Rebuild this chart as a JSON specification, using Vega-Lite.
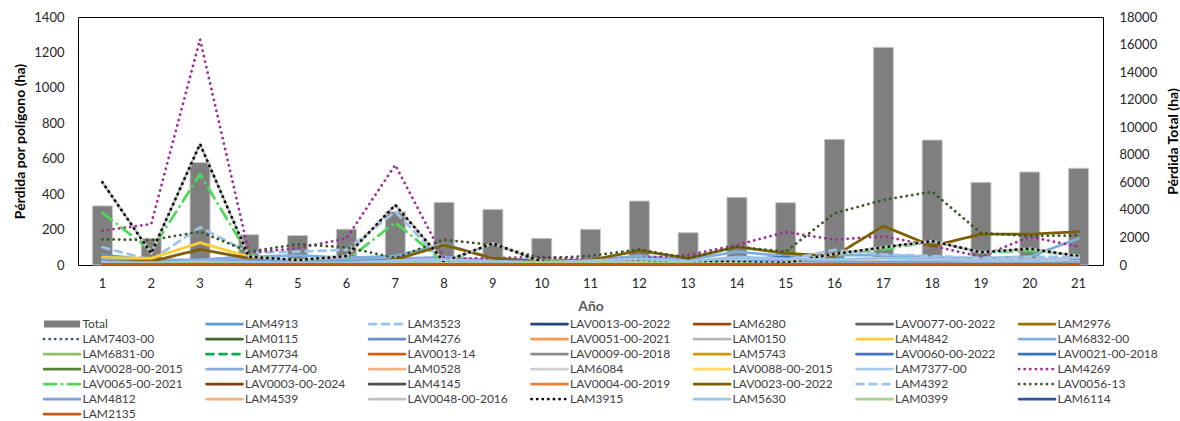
{
"$schema":"https://vega.github.io/schema/vega-lite/v6.json",
"width":1025,"height":248,
"autosize":{"type":"none"},
"padding":{"left":78,"top":17,"right":77,"bottom":156},
"background":"white",
"title":{"text":"Pérdida por polígono","anchor":"middle","frame":"group","font":"Lato","fontSize":18,"fontWeight":"normal","color":"#404040","baseline":"alphabetic","offset":9},
"config":{"view":{"stroke":"#000000","strokeWidth":1},"font":"Lato",
"axis":{"grid":false,"ticks":false,"tickSize":0,"domain":false,"labelFont":"Lato","labelFontSize":13,"labelColor":"#262626","titleFont":"Lato","titleFontSize":14,"titleFontWeight":"bold","titleColor":"#000000"}},
"datasets":{
"totals":[{"year":1,"total":4290},{"year":2,"total":1935},{"year":3,"total":7440},{"year":4,"total":2200},{"year":5,"total":2140},{"year":6,"total":2600},{"year":7,"total":3860},{"year":8,"total":4550},{"year":9,"total":4040},{"year":10,"total":1935},{"year":11,"total":2590},{"year":12,"total":4645},{"year":13,"total":2345},{"year":14,"total":4910},{"year":15,"total":4520},{"year":16,"total":9120},{"year":17,"total":15800},{"year":18,"total":9070},{"year":19,"total":6000},{"year":20,"total":6750},{"year":21,"total":7020}],
"lines":[
{"year":1,"serie":"LAM4913","ha":56},{"year":2,"serie":"LAM4913","ha":30},{"year":3,"serie":"LAM4913","ha":25},{"year":4,"serie":"LAM4913","ha":51},{"year":5,"serie":"LAM4913","ha":20},{"year":6,"serie":"LAM4913","ha":25},{"year":7,"serie":"LAM4913","ha":30},{"year":8,"serie":"LAM4913","ha":40},{"year":9,"serie":"LAM4913","ha":20},{"year":10,"serie":"LAM4913","ha":15},{"year":11,"serie":"LAM4913","ha":15},{"year":12,"serie":"LAM4913","ha":20},{"year":13,"serie":"LAM4913","ha":10},{"year":14,"serie":"LAM4913","ha":20},{"year":15,"serie":"LAM4913","ha":25},{"year":16,"serie":"LAM4913","ha":20},{"year":17,"serie":"LAM4913","ha":15},{"year":18,"serie":"LAM4913","ha":15},{"year":19,"serie":"LAM4913","ha":10},{"year":20,"serie":"LAM4913","ha":10},{"year":21,"serie":"LAM4913","ha":15},
{"year":1,"serie":"LAM3523","ha":100},{"year":2,"serie":"LAM3523","ha":28},{"year":3,"serie":"LAM3523","ha":213},{"year":4,"serie":"LAM3523","ha":70},{"year":5,"serie":"LAM3523","ha":75},{"year":6,"serie":"LAM3523","ha":85},{"year":7,"serie":"LAM3523","ha":301},{"year":8,"serie":"LAM3523","ha":10},{"year":9,"serie":"LAM3523","ha":15},{"year":10,"serie":"LAM3523","ha":10},{"year":11,"serie":"LAM3523","ha":10},{"year":12,"serie":"LAM3523","ha":15},{"year":13,"serie":"LAM3523","ha":10},{"year":14,"serie":"LAM3523","ha":20},{"year":15,"serie":"LAM3523","ha":15},{"year":16,"serie":"LAM3523","ha":20},{"year":17,"serie":"LAM3523","ha":15},{"year":18,"serie":"LAM3523","ha":15},{"year":19,"serie":"LAM3523","ha":10},{"year":20,"serie":"LAM3523","ha":10},{"year":21,"serie":"LAM3523","ha":10},
{"year":1,"serie":"LAV0013-00-2022","ha":2},{"year":2,"serie":"LAV0013-00-2022","ha":2},{"year":3,"serie":"LAV0013-00-2022","ha":3},{"year":4,"serie":"LAV0013-00-2022","ha":2},{"year":5,"serie":"LAV0013-00-2022","ha":2},{"year":6,"serie":"LAV0013-00-2022","ha":2},{"year":7,"serie":"LAV0013-00-2022","ha":2},{"year":8,"serie":"LAV0013-00-2022","ha":2},{"year":9,"serie":"LAV0013-00-2022","ha":2},{"year":10,"serie":"LAV0013-00-2022","ha":2},{"year":11,"serie":"LAV0013-00-2022","ha":2},{"year":12,"serie":"LAV0013-00-2022","ha":2},{"year":13,"serie":"LAV0013-00-2022","ha":2},{"year":14,"serie":"LAV0013-00-2022","ha":2},{"year":15,"serie":"LAV0013-00-2022","ha":2},{"year":16,"serie":"LAV0013-00-2022","ha":3},{"year":17,"serie":"LAV0013-00-2022","ha":3},{"year":18,"serie":"LAV0013-00-2022","ha":3},{"year":19,"serie":"LAV0013-00-2022","ha":2},{"year":20,"serie":"LAV0013-00-2022","ha":2},{"year":21,"serie":"LAV0013-00-2022","ha":2},
{"year":1,"serie":"LAM6280","ha":3},{"year":2,"serie":"LAM6280","ha":3},{"year":3,"serie":"LAM6280","ha":4},{"year":4,"serie":"LAM6280","ha":3},{"year":5,"serie":"LAM6280","ha":3},{"year":6,"serie":"LAM6280","ha":3},{"year":7,"serie":"LAM6280","ha":3},{"year":8,"serie":"LAM6280","ha":3},{"year":9,"serie":"LAM6280","ha":3},{"year":10,"serie":"LAM6280","ha":3},{"year":11,"serie":"LAM6280","ha":3},{"year":12,"serie":"LAM6280","ha":3},{"year":13,"serie":"LAM6280","ha":3},{"year":14,"serie":"LAM6280","ha":3},{"year":15,"serie":"LAM6280","ha":3},{"year":16,"serie":"LAM6280","ha":3},{"year":17,"serie":"LAM6280","ha":3},{"year":18,"serie":"LAM6280","ha":3},{"year":19,"serie":"LAM6280","ha":3},{"year":20,"serie":"LAM6280","ha":3},{"year":21,"serie":"LAM6280","ha":3},
{"year":1,"serie":"LAV0077-00-2022","ha":4},{"year":2,"serie":"LAV0077-00-2022","ha":3},{"year":3,"serie":"LAV0077-00-2022","ha":5},{"year":4,"serie":"LAV0077-00-2022","ha":3},{"year":5,"serie":"LAV0077-00-2022","ha":3},{"year":6,"serie":"LAV0077-00-2022","ha":3},{"year":7,"serie":"LAV0077-00-2022","ha":4},{"year":8,"serie":"LAV0077-00-2022","ha":4},{"year":9,"serie":"LAV0077-00-2022","ha":3},{"year":10,"serie":"LAV0077-00-2022","ha":3},{"year":11,"serie":"LAV0077-00-2022","ha":3},{"year":12,"serie":"LAV0077-00-2022","ha":4},{"year":13,"serie":"LAV0077-00-2022","ha":3},{"year":14,"serie":"LAV0077-00-2022","ha":4},{"year":15,"serie":"LAV0077-00-2022","ha":4},{"year":16,"serie":"LAV0077-00-2022","ha":5},{"year":17,"serie":"LAV0077-00-2022","ha":5},{"year":18,"serie":"LAV0077-00-2022","ha":4},{"year":19,"serie":"LAV0077-00-2022","ha":3},{"year":20,"serie":"LAV0077-00-2022","ha":3},{"year":21,"serie":"LAV0077-00-2022","ha":3},
{"year":1,"serie":"LAM2976","ha":8},{"year":2,"serie":"LAM2976","ha":6},{"year":3,"serie":"LAM2976","ha":12},{"year":4,"serie":"LAM2976","ha":7},{"year":5,"serie":"LAM2976","ha":5},{"year":6,"serie":"LAM2976","ha":5},{"year":7,"serie":"LAM2976","ha":8},{"year":8,"serie":"LAM2976","ha":12},{"year":9,"serie":"LAM2976","ha":6},{"year":10,"serie":"LAM2976","ha":4},{"year":11,"serie":"LAM2976","ha":5},{"year":12,"serie":"LAM2976","ha":10},{"year":13,"serie":"LAM2976","ha":5},{"year":14,"serie":"LAM2976","ha":10},{"year":15,"serie":"LAM2976","ha":8},{"year":16,"serie":"LAM2976","ha":8},{"year":17,"serie":"LAM2976","ha":12},{"year":18,"serie":"LAM2976","ha":10},{"year":19,"serie":"LAM2976","ha":8},{"year":20,"serie":"LAM2976","ha":8},{"year":21,"serie":"LAM2976","ha":9},
{"year":1,"serie":"LAM7403-00","ha":10},{"year":2,"serie":"LAM7403-00","ha":8},{"year":3,"serie":"LAM7403-00","ha":15},{"year":4,"serie":"LAM7403-00","ha":8},{"year":5,"serie":"LAM7403-00","ha":6},{"year":6,"serie":"LAM7403-00","ha":6},{"year":7,"serie":"LAM7403-00","ha":10},{"year":8,"serie":"LAM7403-00","ha":12},{"year":9,"serie":"LAM7403-00","ha":8},{"year":10,"serie":"LAM7403-00","ha":5},{"year":11,"serie":"LAM7403-00","ha":5},{"year":12,"serie":"LAM7403-00","ha":8},{"year":13,"serie":"LAM7403-00","ha":5},{"year":14,"serie":"LAM7403-00","ha":8},{"year":15,"serie":"LAM7403-00","ha":8},{"year":16,"serie":"LAM7403-00","ha":10},{"year":17,"serie":"LAM7403-00","ha":10},{"year":18,"serie":"LAM7403-00","ha":8},{"year":19,"serie":"LAM7403-00","ha":6},{"year":20,"serie":"LAM7403-00","ha":6},{"year":21,"serie":"LAM7403-00","ha":6},
{"year":1,"serie":"LAM0115","ha":5},{"year":2,"serie":"LAM0115","ha":4},{"year":3,"serie":"LAM0115","ha":8},{"year":4,"serie":"LAM0115","ha":4},{"year":5,"serie":"LAM0115","ha":3},{"year":6,"serie":"LAM0115","ha":3},{"year":7,"serie":"LAM0115","ha":5},{"year":8,"serie":"LAM0115","ha":6},{"year":9,"serie":"LAM0115","ha":4},{"year":10,"serie":"LAM0115","ha":3},{"year":11,"serie":"LAM0115","ha":3},{"year":12,"serie":"LAM0115","ha":5},{"year":13,"serie":"LAM0115","ha":3},{"year":14,"serie":"LAM0115","ha":5},{"year":15,"serie":"LAM0115","ha":5},{"year":16,"serie":"LAM0115","ha":5},{"year":17,"serie":"LAM0115","ha":6},{"year":18,"serie":"LAM0115","ha":5},{"year":19,"serie":"LAM0115","ha":4},{"year":20,"serie":"LAM0115","ha":4},{"year":21,"serie":"LAM0115","ha":4},
{"year":1,"serie":"LAM4276","ha":20},{"year":2,"serie":"LAM4276","ha":15},{"year":3,"serie":"LAM4276","ha":30},{"year":4,"serie":"LAM4276","ha":20},{"year":5,"serie":"LAM4276","ha":15},{"year":6,"serie":"LAM4276","ha":15},{"year":7,"serie":"LAM4276","ha":20},{"year":8,"serie":"LAM4276","ha":30},{"year":9,"serie":"LAM4276","ha":20},{"year":10,"serie":"LAM4276","ha":10},{"year":11,"serie":"LAM4276","ha":10},{"year":12,"serie":"LAM4276","ha":15},{"year":13,"serie":"LAM4276","ha":10},{"year":14,"serie":"LAM4276","ha":15},{"year":15,"serie":"LAM4276","ha":10},{"year":16,"serie":"LAM4276","ha":10},{"year":17,"serie":"LAM4276","ha":10},{"year":18,"serie":"LAM4276","ha":10},{"year":19,"serie":"LAM4276","ha":10},{"year":20,"serie":"LAM4276","ha":10},{"year":21,"serie":"LAM4276","ha":10},
{"year":1,"serie":"LAV0051-00-2021","ha":4},{"year":2,"serie":"LAV0051-00-2021","ha":3},{"year":3,"serie":"LAV0051-00-2021","ha":5},{"year":4,"serie":"LAV0051-00-2021","ha":3},{"year":5,"serie":"LAV0051-00-2021","ha":3},{"year":6,"serie":"LAV0051-00-2021","ha":3},{"year":7,"serie":"LAV0051-00-2021","ha":4},{"year":8,"serie":"LAV0051-00-2021","ha":4},{"year":9,"serie":"LAV0051-00-2021","ha":3},{"year":10,"serie":"LAV0051-00-2021","ha":3},{"year":11,"serie":"LAV0051-00-2021","ha":3},{"year":12,"serie":"LAV0051-00-2021","ha":4},{"year":13,"serie":"LAV0051-00-2021","ha":3},{"year":14,"serie":"LAV0051-00-2021","ha":6},{"year":15,"serie":"LAV0051-00-2021","ha":8},{"year":16,"serie":"LAV0051-00-2021","ha":5},{"year":17,"serie":"LAV0051-00-2021","ha":6},{"year":18,"serie":"LAV0051-00-2021","ha":5},{"year":19,"serie":"LAV0051-00-2021","ha":4},{"year":20,"serie":"LAV0051-00-2021","ha":4},{"year":21,"serie":"LAV0051-00-2021","ha":4},
{"year":1,"serie":"LAM0150","ha":6},{"year":2,"serie":"LAM0150","ha":5},{"year":3,"serie":"LAM0150","ha":8},{"year":4,"serie":"LAM0150","ha":5},{"year":5,"serie":"LAM0150","ha":4},{"year":6,"serie":"LAM0150","ha":4},{"year":7,"serie":"LAM0150","ha":6},{"year":8,"serie":"LAM0150","ha":7},{"year":9,"serie":"LAM0150","ha":5},{"year":10,"serie":"LAM0150","ha":4},{"year":11,"serie":"LAM0150","ha":4},{"year":12,"serie":"LAM0150","ha":6},{"year":13,"serie":"LAM0150","ha":4},{"year":14,"serie":"LAM0150","ha":6},{"year":15,"serie":"LAM0150","ha":6},{"year":16,"serie":"LAM0150","ha":6},{"year":17,"serie":"LAM0150","ha":7},{"year":18,"serie":"LAM0150","ha":6},{"year":19,"serie":"LAM0150","ha":5},{"year":20,"serie":"LAM0150","ha":5},{"year":21,"serie":"LAM0150","ha":5},
{"year":1,"serie":"LAM4842","ha":43},{"year":2,"serie":"LAM4842","ha":38},{"year":3,"serie":"LAM4842","ha":126},{"year":4,"serie":"LAM4842","ha":47},{"year":5,"serie":"LAM4842","ha":20},{"year":6,"serie":"LAM4842","ha":15},{"year":7,"serie":"LAM4842","ha":15},{"year":8,"serie":"LAM4842","ha":10},{"year":9,"serie":"LAM4842","ha":8},{"year":10,"serie":"LAM4842","ha":5},{"year":11,"serie":"LAM4842","ha":5},{"year":12,"serie":"LAM4842","ha":10},{"year":13,"serie":"LAM4842","ha":5},{"year":14,"serie":"LAM4842","ha":25},{"year":15,"serie":"LAM4842","ha":20},{"year":16,"serie":"LAM4842","ha":12},{"year":17,"serie":"LAM4842","ha":38},{"year":18,"serie":"LAM4842","ha":30},{"year":19,"serie":"LAM4842","ha":12},{"year":20,"serie":"LAM4842","ha":10},{"year":21,"serie":"LAM4842","ha":10},
{"year":1,"serie":"LAM6832-00","ha":30},{"year":2,"serie":"LAM6832-00","ha":25},{"year":3,"serie":"LAM6832-00","ha":30},{"year":4,"serie":"LAM6832-00","ha":45},{"year":5,"serie":"LAM6832-00","ha":55},{"year":6,"serie":"LAM6832-00","ha":40},{"year":7,"serie":"LAM6832-00","ha":51},{"year":8,"serie":"LAM6832-00","ha":117},{"year":9,"serie":"LAM6832-00","ha":38},{"year":10,"serie":"LAM6832-00","ha":25},{"year":11,"serie":"LAM6832-00","ha":28},{"year":12,"serie":"LAM6832-00","ha":51},{"year":13,"serie":"LAM6832-00","ha":30},{"year":14,"serie":"LAM6832-00","ha":75},{"year":15,"serie":"LAM6832-00","ha":50},{"year":16,"serie":"LAM6832-00","ha":56},{"year":17,"serie":"LAM6832-00","ha":56},{"year":18,"serie":"LAM6832-00","ha":43},{"year":19,"serie":"LAM6832-00","ha":38},{"year":20,"serie":"LAM6832-00","ha":47},{"year":21,"serie":"LAM6832-00","ha":150},
{"year":1,"serie":"LAM6831-00","ha":10},{"year":2,"serie":"LAM6831-00","ha":8},{"year":3,"serie":"LAM6831-00","ha":15},{"year":4,"serie":"LAM6831-00","ha":10},{"year":5,"serie":"LAM6831-00","ha":8},{"year":6,"serie":"LAM6831-00","ha":8},{"year":7,"serie":"LAM6831-00","ha":10},{"year":8,"serie":"LAM6831-00","ha":10},{"year":9,"serie":"LAM6831-00","ha":8},{"year":10,"serie":"LAM6831-00","ha":15},{"year":11,"serie":"LAM6831-00","ha":20},{"year":12,"serie":"LAM6831-00","ha":20},{"year":13,"serie":"LAM6831-00","ha":10},{"year":14,"serie":"LAM6831-00","ha":10},{"year":15,"serie":"LAM6831-00","ha":10},{"year":16,"serie":"LAM6831-00","ha":8},{"year":17,"serie":"LAM6831-00","ha":8},{"year":18,"serie":"LAM6831-00","ha":8},{"year":19,"serie":"LAM6831-00","ha":5},{"year":20,"serie":"LAM6831-00","ha":5},{"year":21,"serie":"LAM6831-00","ha":5},
{"year":1,"serie":"LAM0734","ha":10},{"year":2,"serie":"LAM0734","ha":6},{"year":3,"serie":"LAM0734","ha":15},{"year":4,"serie":"LAM0734","ha":6},{"year":5,"serie":"LAM0734","ha":5},{"year":6,"serie":"LAM0734","ha":5},{"year":7,"serie":"LAM0734","ha":10},{"year":8,"serie":"LAM0734","ha":15},{"year":9,"serie":"LAM0734","ha":6},{"year":10,"serie":"LAM0734","ha":5},{"year":11,"serie":"LAM0734","ha":5},{"year":12,"serie":"LAM0734","ha":20},{"year":13,"serie":"LAM0734","ha":5},{"year":14,"serie":"LAM0734","ha":10},{"year":15,"serie":"LAM0734","ha":10},{"year":16,"serie":"LAM0734","ha":10},{"year":17,"serie":"LAM0734","ha":10},{"year":18,"serie":"LAM0734","ha":10},{"year":19,"serie":"LAM0734","ha":6},{"year":20,"serie":"LAM0734","ha":6},{"year":21,"serie":"LAM0734","ha":6},
{"year":1,"serie":"LAV0013-14","ha":3},{"year":2,"serie":"LAV0013-14","ha":3},{"year":3,"serie":"LAV0013-14","ha":4},{"year":4,"serie":"LAV0013-14","ha":3},{"year":5,"serie":"LAV0013-14","ha":2},{"year":6,"serie":"LAV0013-14","ha":2},{"year":7,"serie":"LAV0013-14","ha":3},{"year":8,"serie":"LAV0013-14","ha":3},{"year":9,"serie":"LAV0013-14","ha":3},{"year":10,"serie":"LAV0013-14","ha":2},{"year":11,"serie":"LAV0013-14","ha":2},{"year":12,"serie":"LAV0013-14","ha":3},{"year":13,"serie":"LAV0013-14","ha":2},{"year":14,"serie":"LAV0013-14","ha":3},{"year":15,"serie":"LAV0013-14","ha":3},{"year":16,"serie":"LAV0013-14","ha":3},{"year":17,"serie":"LAV0013-14","ha":3},{"year":18,"serie":"LAV0013-14","ha":3},{"year":19,"serie":"LAV0013-14","ha":2},{"year":20,"serie":"LAV0013-14","ha":2},{"year":21,"serie":"LAV0013-14","ha":2},
{"year":1,"serie":"LAV0009-00-2018","ha":5},{"year":2,"serie":"LAV0009-00-2018","ha":4},{"year":3,"serie":"LAV0009-00-2018","ha":6},{"year":4,"serie":"LAV0009-00-2018","ha":4},{"year":5,"serie":"LAV0009-00-2018","ha":4},{"year":6,"serie":"LAV0009-00-2018","ha":4},{"year":7,"serie":"LAV0009-00-2018","ha":5},{"year":8,"serie":"LAV0009-00-2018","ha":5},{"year":9,"serie":"LAV0009-00-2018","ha":4},{"year":10,"serie":"LAV0009-00-2018","ha":3},{"year":11,"serie":"LAV0009-00-2018","ha":3},{"year":12,"serie":"LAV0009-00-2018","ha":5},{"year":13,"serie":"LAV0009-00-2018","ha":3},{"year":14,"serie":"LAV0009-00-2018","ha":5},{"year":15,"serie":"LAV0009-00-2018","ha":5},{"year":16,"serie":"LAV0009-00-2018","ha":5},{"year":17,"serie":"LAV0009-00-2018","ha":5},{"year":18,"serie":"LAV0009-00-2018","ha":5},{"year":19,"serie":"LAV0009-00-2018","ha":4},{"year":20,"serie":"LAV0009-00-2018","ha":4},{"year":21,"serie":"LAV0009-00-2018","ha":4},
{"year":1,"serie":"LAM5743","ha":6},{"year":2,"serie":"LAM5743","ha":5},{"year":3,"serie":"LAM5743","ha":10},{"year":4,"serie":"LAM5743","ha":6},{"year":5,"serie":"LAM5743","ha":4},{"year":6,"serie":"LAM5743","ha":4},{"year":7,"serie":"LAM5743","ha":5},{"year":8,"serie":"LAM5743","ha":6},{"year":9,"serie":"LAM5743","ha":4},{"year":10,"serie":"LAM5743","ha":3},{"year":11,"serie":"LAM5743","ha":3},{"year":12,"serie":"LAM5743","ha":5},{"year":13,"serie":"LAM5743","ha":4},{"year":14,"serie":"LAM5743","ha":8},{"year":15,"serie":"LAM5743","ha":6},{"year":16,"serie":"LAM5743","ha":6},{"year":17,"serie":"LAM5743","ha":10},{"year":18,"serie":"LAM5743","ha":8},{"year":19,"serie":"LAM5743","ha":5},{"year":20,"serie":"LAM5743","ha":5},{"year":21,"serie":"LAM5743","ha":5},
{"year":1,"serie":"LAV0060-00-2022","ha":5},{"year":2,"serie":"LAV0060-00-2022","ha":5},{"year":3,"serie":"LAV0060-00-2022","ha":6},{"year":4,"serie":"LAV0060-00-2022","ha":5},{"year":5,"serie":"LAV0060-00-2022","ha":5},{"year":6,"serie":"LAV0060-00-2022","ha":5},{"year":7,"serie":"LAV0060-00-2022","ha":5},{"year":8,"serie":"LAV0060-00-2022","ha":6},{"year":9,"serie":"LAV0060-00-2022","ha":5},{"year":10,"serie":"LAV0060-00-2022","ha":4},{"year":11,"serie":"LAV0060-00-2022","ha":4},{"year":12,"serie":"LAV0060-00-2022","ha":5},{"year":13,"serie":"LAV0060-00-2022","ha":4},{"year":14,"serie":"LAV0060-00-2022","ha":6},{"year":15,"serie":"LAV0060-00-2022","ha":6},{"year":16,"serie":"LAV0060-00-2022","ha":5},{"year":17,"serie":"LAV0060-00-2022","ha":5},{"year":18,"serie":"LAV0060-00-2022","ha":5},{"year":19,"serie":"LAV0060-00-2022","ha":5},{"year":20,"serie":"LAV0060-00-2022","ha":5},{"year":21,"serie":"LAV0060-00-2022","ha":10},
{"year":1,"serie":"LAV0021-00-2018","ha":5},{"year":2,"serie":"LAV0021-00-2018","ha":5},{"year":3,"serie":"LAV0021-00-2018","ha":5},{"year":4,"serie":"LAV0021-00-2018","ha":5},{"year":5,"serie":"LAV0021-00-2018","ha":5},{"year":6,"serie":"LAV0021-00-2018","ha":5},{"year":7,"serie":"LAV0021-00-2018","ha":5},{"year":8,"serie":"LAV0021-00-2018","ha":5},{"year":9,"serie":"LAV0021-00-2018","ha":5},{"year":10,"serie":"LAV0021-00-2018","ha":5},{"year":11,"serie":"LAV0021-00-2018","ha":5},{"year":12,"serie":"LAV0021-00-2018","ha":6},{"year":13,"serie":"LAV0021-00-2018","ha":5},{"year":14,"serie":"LAV0021-00-2018","ha":30},{"year":15,"serie":"LAV0021-00-2018","ha":45},{"year":16,"serie":"LAV0021-00-2018","ha":5},{"year":17,"serie":"LAV0021-00-2018","ha":5},{"year":18,"serie":"LAV0021-00-2018","ha":5},{"year":19,"serie":"LAV0021-00-2018","ha":5},{"year":20,"serie":"LAV0021-00-2018","ha":5},{"year":21,"serie":"LAV0021-00-2018","ha":5},
{"year":1,"serie":"LAV0028-00-2015","ha":6},{"year":2,"serie":"LAV0028-00-2015","ha":5},{"year":3,"serie":"LAV0028-00-2015","ha":8},{"year":4,"serie":"LAV0028-00-2015","ha":5},{"year":5,"serie":"LAV0028-00-2015","ha":4},{"year":6,"serie":"LAV0028-00-2015","ha":4},{"year":7,"serie":"LAV0028-00-2015","ha":6},{"year":8,"serie":"LAV0028-00-2015","ha":7},{"year":9,"serie":"LAV0028-00-2015","ha":5},{"year":10,"serie":"LAV0028-00-2015","ha":4},{"year":11,"serie":"LAV0028-00-2015","ha":5},{"year":12,"serie":"LAV0028-00-2015","ha":6},{"year":13,"serie":"LAV0028-00-2015","ha":4},{"year":14,"serie":"LAV0028-00-2015","ha":6},{"year":15,"serie":"LAV0028-00-2015","ha":5},{"year":16,"serie":"LAV0028-00-2015","ha":5},{"year":17,"serie":"LAV0028-00-2015","ha":5},{"year":18,"serie":"LAV0028-00-2015","ha":5},{"year":19,"serie":"LAV0028-00-2015","ha":4},{"year":20,"serie":"LAV0028-00-2015","ha":4},{"year":21,"serie":"LAV0028-00-2015","ha":4},
{"year":1,"serie":"LAM7774-00","ha":25},{"year":2,"serie":"LAM7774-00","ha":20},{"year":3,"serie":"LAM7774-00","ha":20},{"year":4,"serie":"LAM7774-00","ha":30},{"year":5,"serie":"LAM7774-00","ha":25},{"year":6,"serie":"LAM7774-00","ha":30},{"year":7,"serie":"LAM7774-00","ha":35},{"year":8,"serie":"LAM7774-00","ha":45},{"year":9,"serie":"LAM7774-00","ha":25},{"year":10,"serie":"LAM7774-00","ha":20},{"year":11,"serie":"LAM7774-00","ha":20},{"year":12,"serie":"LAM7774-00","ha":25},{"year":13,"serie":"LAM7774-00","ha":15},{"year":14,"serie":"LAM7774-00","ha":30},{"year":15,"serie":"LAM7774-00","ha":25},{"year":16,"serie":"LAM7774-00","ha":20},{"year":17,"serie":"LAM7774-00","ha":20},{"year":18,"serie":"LAM7774-00","ha":20},{"year":19,"serie":"LAM7774-00","ha":15},{"year":20,"serie":"LAM7774-00","ha":15},{"year":21,"serie":"LAM7774-00","ha":20},
{"year":1,"serie":"LAM0528","ha":5},{"year":2,"serie":"LAM0528","ha":4},{"year":3,"serie":"LAM0528","ha":6},{"year":4,"serie":"LAM0528","ha":4},{"year":5,"serie":"LAM0528","ha":4},{"year":6,"serie":"LAM0528","ha":4},{"year":7,"serie":"LAM0528","ha":5},{"year":8,"serie":"LAM0528","ha":5},{"year":9,"serie":"LAM0528","ha":4},{"year":10,"serie":"LAM0528","ha":4},{"year":11,"serie":"LAM0528","ha":6},{"year":12,"serie":"LAM0528","ha":8},{"year":13,"serie":"LAM0528","ha":12},{"year":14,"serie":"LAM0528","ha":14},{"year":15,"serie":"LAM0528","ha":12},{"year":16,"serie":"LAM0528","ha":6},{"year":17,"serie":"LAM0528","ha":6},{"year":18,"serie":"LAM0528","ha":6},{"year":19,"serie":"LAM0528","ha":4},{"year":20,"serie":"LAM0528","ha":4},{"year":21,"serie":"LAM0528","ha":4},
{"year":1,"serie":"LAM6084","ha":4},{"year":2,"serie":"LAM6084","ha":4},{"year":3,"serie":"LAM6084","ha":5},{"year":4,"serie":"LAM6084","ha":4},{"year":5,"serie":"LAM6084","ha":3},{"year":6,"serie":"LAM6084","ha":3},{"year":7,"serie":"LAM6084","ha":4},{"year":8,"serie":"LAM6084","ha":4},{"year":9,"serie":"LAM6084","ha":3},{"year":10,"serie":"LAM6084","ha":3},{"year":11,"serie":"LAM6084","ha":3},{"year":12,"serie":"LAM6084","ha":4},{"year":13,"serie":"LAM6084","ha":3},{"year":14,"serie":"LAM6084","ha":4},{"year":15,"serie":"LAM6084","ha":4},{"year":16,"serie":"LAM6084","ha":4},{"year":17,"serie":"LAM6084","ha":4},{"year":18,"serie":"LAM6084","ha":4},{"year":19,"serie":"LAM6084","ha":3},{"year":20,"serie":"LAM6084","ha":3},{"year":21,"serie":"LAM6084","ha":3},
{"year":1,"serie":"LAV0088-00-2015","ha":8},{"year":2,"serie":"LAV0088-00-2015","ha":6},{"year":3,"serie":"LAV0088-00-2015","ha":12},{"year":4,"serie":"LAV0088-00-2015","ha":6},{"year":5,"serie":"LAV0088-00-2015","ha":5},{"year":6,"serie":"LAV0088-00-2015","ha":4},{"year":7,"serie":"LAV0088-00-2015","ha":6},{"year":8,"serie":"LAV0088-00-2015","ha":6},{"year":9,"serie":"LAV0088-00-2015","ha":4},{"year":10,"serie":"LAV0088-00-2015","ha":3},{"year":11,"serie":"LAV0088-00-2015","ha":3},{"year":12,"serie":"LAV0088-00-2015","ha":6},{"year":13,"serie":"LAV0088-00-2015","ha":4},{"year":14,"serie":"LAV0088-00-2015","ha":12},{"year":15,"serie":"LAV0088-00-2015","ha":10},{"year":16,"serie":"LAV0088-00-2015","ha":10},{"year":17,"serie":"LAV0088-00-2015","ha":30},{"year":18,"serie":"LAV0088-00-2015","ha":20},{"year":19,"serie":"LAV0088-00-2015","ha":8},{"year":20,"serie":"LAV0088-00-2015","ha":8},{"year":21,"serie":"LAV0088-00-2015","ha":8},
{"year":1,"serie":"LAM7377-00","ha":10},{"year":2,"serie":"LAM7377-00","ha":10},{"year":3,"serie":"LAM7377-00","ha":15},{"year":4,"serie":"LAM7377-00","ha":10},{"year":5,"serie":"LAM7377-00","ha":10},{"year":6,"serie":"LAM7377-00","ha":10},{"year":7,"serie":"LAM7377-00","ha":15},{"year":8,"serie":"LAM7377-00","ha":20},{"year":9,"serie":"LAM7377-00","ha":15},{"year":10,"serie":"LAM7377-00","ha":10},{"year":11,"serie":"LAM7377-00","ha":15},{"year":12,"serie":"LAM7377-00","ha":20},{"year":13,"serie":"LAM7377-00","ha":10},{"year":14,"serie":"LAM7377-00","ha":30},{"year":15,"serie":"LAM7377-00","ha":20},{"year":16,"serie":"LAM7377-00","ha":15},{"year":17,"serie":"LAM7377-00","ha":20},{"year":18,"serie":"LAM7377-00","ha":20},{"year":19,"serie":"LAM7377-00","ha":15},{"year":20,"serie":"LAM7377-00","ha":15},{"year":21,"serie":"LAM7377-00","ha":20},
{"year":1,"serie":"LAM4269","ha":194},{"year":2,"serie":"LAM4269","ha":231},{"year":3,"serie":"LAM4269","ha":1274},{"year":4,"serie":"LAM4269","ha":70},{"year":5,"serie":"LAM4269","ha":95},{"year":6,"serie":"LAM4269","ha":150},{"year":7,"serie":"LAM4269","ha":565},{"year":8,"serie":"LAM4269","ha":35},{"year":9,"serie":"LAM4269","ha":38},{"year":10,"serie":"LAM4269","ha":47},{"year":11,"serie":"LAM4269","ha":28},{"year":12,"serie":"LAM4269","ha":38},{"year":13,"serie":"LAM4269","ha":56},{"year":14,"serie":"LAM4269","ha":113},{"year":15,"serie":"LAM4269","ha":186},{"year":16,"serie":"LAM4269","ha":143},{"year":17,"serie":"LAM4269","ha":162},{"year":18,"serie":"LAM4269","ha":108},{"year":19,"serie":"LAM4269","ha":47},{"year":20,"serie":"LAM4269","ha":160},{"year":21,"serie":"LAM4269","ha":103},
{"year":1,"serie":"LAV0065-00-2021","ha":295},{"year":2,"serie":"LAV0065-00-2021","ha":80},{"year":3,"serie":"LAV0065-00-2021","ha":512},{"year":4,"serie":"LAV0065-00-2021","ha":55},{"year":5,"serie":"LAV0065-00-2021","ha":20},{"year":6,"serie":"LAV0065-00-2021","ha":25},{"year":7,"serie":"LAV0065-00-2021","ha":240},{"year":8,"serie":"LAV0065-00-2021","ha":15},{"year":9,"serie":"LAV0065-00-2021","ha":120},{"year":10,"serie":"LAV0065-00-2021","ha":20},{"year":11,"serie":"LAV0065-00-2021","ha":10},{"year":12,"serie":"LAV0065-00-2021","ha":35},{"year":13,"serie":"LAV0065-00-2021","ha":15},{"year":14,"serie":"LAV0065-00-2021","ha":15},{"year":15,"serie":"LAV0065-00-2021","ha":15},{"year":16,"serie":"LAV0065-00-2021","ha":60},{"year":17,"serie":"LAV0065-00-2021","ha":88},{"year":18,"serie":"LAV0065-00-2021","ha":135},{"year":19,"serie":"LAV0065-00-2021","ha":70},{"year":20,"serie":"LAV0065-00-2021","ha":81},{"year":21,"serie":"LAV0065-00-2021","ha":55},
{"year":1,"serie":"LAV0003-00-2024","ha":3},{"year":2,"serie":"LAV0003-00-2024","ha":3},{"year":3,"serie":"LAV0003-00-2024","ha":4},{"year":4,"serie":"LAV0003-00-2024","ha":3},{"year":5,"serie":"LAV0003-00-2024","ha":3},{"year":6,"serie":"LAV0003-00-2024","ha":3},{"year":7,"serie":"LAV0003-00-2024","ha":3},{"year":8,"serie":"LAV0003-00-2024","ha":3},{"year":9,"serie":"LAV0003-00-2024","ha":3},{"year":10,"serie":"LAV0003-00-2024","ha":3},{"year":11,"serie":"LAV0003-00-2024","ha":3},{"year":12,"serie":"LAV0003-00-2024","ha":3},{"year":13,"serie":"LAV0003-00-2024","ha":3},{"year":14,"serie":"LAV0003-00-2024","ha":3},{"year":15,"serie":"LAV0003-00-2024","ha":3},{"year":16,"serie":"LAV0003-00-2024","ha":3},{"year":17,"serie":"LAV0003-00-2024","ha":3},{"year":18,"serie":"LAV0003-00-2024","ha":3},{"year":19,"serie":"LAV0003-00-2024","ha":3},{"year":20,"serie":"LAV0003-00-2024","ha":3},{"year":21,"serie":"LAV0003-00-2024","ha":3},
{"year":1,"serie":"LAM4145","ha":4},{"year":2,"serie":"LAM4145","ha":3},{"year":3,"serie":"LAM4145","ha":5},{"year":4,"serie":"LAM4145","ha":3},{"year":5,"serie":"LAM4145","ha":3},{"year":6,"serie":"LAM4145","ha":3},{"year":7,"serie":"LAM4145","ha":4},{"year":8,"serie":"LAM4145","ha":4},{"year":9,"serie":"LAM4145","ha":3},{"year":10,"serie":"LAM4145","ha":3},{"year":11,"serie":"LAM4145","ha":3},{"year":12,"serie":"LAM4145","ha":4},{"year":13,"serie":"LAM4145","ha":3},{"year":14,"serie":"LAM4145","ha":4},{"year":15,"serie":"LAM4145","ha":4},{"year":16,"serie":"LAM4145","ha":4},{"year":17,"serie":"LAM4145","ha":4},{"year":18,"serie":"LAM4145","ha":4},{"year":19,"serie":"LAM4145","ha":3},{"year":20,"serie":"LAM4145","ha":3},{"year":21,"serie":"LAM4145","ha":3},
{"year":1,"serie":"LAV0004-00-2019","ha":5},{"year":2,"serie":"LAV0004-00-2019","ha":4},{"year":3,"serie":"LAV0004-00-2019","ha":6},{"year":4,"serie":"LAV0004-00-2019","ha":4},{"year":5,"serie":"LAV0004-00-2019","ha":4},{"year":6,"serie":"LAV0004-00-2019","ha":4},{"year":7,"serie":"LAV0004-00-2019","ha":5},{"year":8,"serie":"LAV0004-00-2019","ha":5},{"year":9,"serie":"LAV0004-00-2019","ha":4},{"year":10,"serie":"LAV0004-00-2019","ha":4},{"year":11,"serie":"LAV0004-00-2019","ha":4},{"year":12,"serie":"LAV0004-00-2019","ha":5},{"year":13,"serie":"LAV0004-00-2019","ha":6},{"year":14,"serie":"LAV0004-00-2019","ha":8},{"year":15,"serie":"LAV0004-00-2019","ha":7},{"year":16,"serie":"LAV0004-00-2019","ha":5},{"year":17,"serie":"LAV0004-00-2019","ha":5},{"year":18,"serie":"LAV0004-00-2019","ha":5},{"year":19,"serie":"LAV0004-00-2019","ha":4},{"year":20,"serie":"LAV0004-00-2019","ha":4},{"year":21,"serie":"LAV0004-00-2019","ha":4},
{"year":1,"serie":"LAV0023-00-2022","ha":20},{"year":2,"serie":"LAV0023-00-2022","ha":20},{"year":3,"serie":"LAV0023-00-2022","ha":88},{"year":4,"serie":"LAV0023-00-2022","ha":38},{"year":5,"serie":"LAV0023-00-2022","ha":19},{"year":6,"serie":"LAV0023-00-2022","ha":15},{"year":7,"serie":"LAV0023-00-2022","ha":30},{"year":8,"serie":"LAV0023-00-2022","ha":113},{"year":9,"serie":"LAV0023-00-2022","ha":38},{"year":10,"serie":"LAV0023-00-2022","ha":19},{"year":11,"serie":"LAV0023-00-2022","ha":28},{"year":12,"serie":"LAV0023-00-2022","ha":81},{"year":13,"serie":"LAV0023-00-2022","ha":38},{"year":14,"serie":"LAV0023-00-2022","ha":103},{"year":15,"serie":"LAV0023-00-2022","ha":66},{"year":16,"serie":"LAV0023-00-2022","ha":51},{"year":17,"serie":"LAV0023-00-2022","ha":220},{"year":18,"serie":"LAV0023-00-2022","ha":107},{"year":19,"serie":"LAV0023-00-2022","ha":174},{"year":20,"serie":"LAV0023-00-2022","ha":174},{"year":21,"serie":"LAV0023-00-2022","ha":188},
{"year":1,"serie":"LAM4392","ha":5},{"year":2,"serie":"LAM4392","ha":5},{"year":3,"serie":"LAM4392","ha":8},{"year":4,"serie":"LAM4392","ha":5},{"year":5,"serie":"LAM4392","ha":5},{"year":6,"serie":"LAM4392","ha":5},{"year":7,"serie":"LAM4392","ha":6},{"year":8,"serie":"LAM4392","ha":6},{"year":9,"serie":"LAM4392","ha":8},{"year":10,"serie":"LAM4392","ha":5},{"year":11,"serie":"LAM4392","ha":5},{"year":12,"serie":"LAM4392","ha":10},{"year":13,"serie":"LAM4392","ha":5},{"year":14,"serie":"LAM4392","ha":40},{"year":15,"serie":"LAM4392","ha":30},{"year":16,"serie":"LAM4392","ha":85},{"year":17,"serie":"LAM4392","ha":60},{"year":18,"serie":"LAM4392","ha":50},{"year":19,"serie":"LAM4392","ha":40},{"year":20,"serie":"LAM4392","ha":45},{"year":21,"serie":"LAM4392","ha":47},
{"year":1,"serie":"LAV0056-13","ha":145},{"year":2,"serie":"LAV0056-13","ha":141},{"year":3,"serie":"LAV0056-13","ha":188},{"year":4,"serie":"LAV0056-13","ha":75},{"year":5,"serie":"LAV0056-13","ha":117},{"year":6,"serie":"LAV0056-13","ha":100},{"year":7,"serie":"LAV0056-13","ha":40},{"year":8,"serie":"LAV0056-13","ha":143},{"year":9,"serie":"LAV0056-13","ha":113},{"year":10,"serie":"LAV0056-13","ha":38},{"year":11,"serie":"LAV0056-13","ha":51},{"year":12,"serie":"LAV0056-13","ha":88},{"year":13,"serie":"LAV0056-13","ha":38},{"year":14,"serie":"LAV0056-13","ha":103},{"year":15,"serie":"LAV0056-13","ha":75},{"year":16,"serie":"LAV0056-13","ha":292},{"year":17,"serie":"LAV0056-13","ha":367},{"year":18,"serie":"LAV0056-13","ha":414},{"year":19,"serie":"LAV0056-13","ha":180},{"year":20,"serie":"LAV0056-13","ha":164},{"year":21,"serie":"LAV0056-13","ha":167},
{"year":1,"serie":"LAM4812","ha":20},{"year":2,"serie":"LAM4812","ha":15},{"year":3,"serie":"LAM4812","ha":15},{"year":4,"serie":"LAM4812","ha":25},{"year":5,"serie":"LAM4812","ha":20},{"year":6,"serie":"LAM4812","ha":20},{"year":7,"serie":"LAM4812","ha":25},{"year":8,"serie":"LAM4812","ha":30},{"year":9,"serie":"LAM4812","ha":20},{"year":10,"serie":"LAM4812","ha":15},{"year":11,"serie":"LAM4812","ha":15},{"year":12,"serie":"LAM4812","ha":20},{"year":13,"serie":"LAM4812","ha":15},{"year":14,"serie":"LAM4812","ha":20},{"year":15,"serie":"LAM4812","ha":20},{"year":16,"serie":"LAM4812","ha":15},{"year":17,"serie":"LAM4812","ha":15},{"year":18,"serie":"LAM4812","ha":15},{"year":19,"serie":"LAM4812","ha":10},{"year":20,"serie":"LAM4812","ha":10},{"year":21,"serie":"LAM4812","ha":15},
{"year":1,"serie":"LAM4539","ha":4},{"year":2,"serie":"LAM4539","ha":4},{"year":3,"serie":"LAM4539","ha":5},{"year":4,"serie":"LAM4539","ha":4},{"year":5,"serie":"LAM4539","ha":3},{"year":6,"serie":"LAM4539","ha":3},{"year":7,"serie":"LAM4539","ha":4},{"year":8,"serie":"LAM4539","ha":4},{"year":9,"serie":"LAM4539","ha":3},{"year":10,"serie":"LAM4539","ha":3},{"year":11,"serie":"LAM4539","ha":3},{"year":12,"serie":"LAM4539","ha":4},{"year":13,"serie":"LAM4539","ha":5},{"year":14,"serie":"LAM4539","ha":6},{"year":15,"serie":"LAM4539","ha":6},{"year":16,"serie":"LAM4539","ha":4},{"year":17,"serie":"LAM4539","ha":4},{"year":18,"serie":"LAM4539","ha":4},{"year":19,"serie":"LAM4539","ha":3},{"year":20,"serie":"LAM4539","ha":3},{"year":21,"serie":"LAM4539","ha":3},
{"year":1,"serie":"LAV0048-00-2016","ha":467},{"year":2,"serie":"LAV0048-00-2016","ha":66},{"year":3,"serie":"LAV0048-00-2016","ha":683},{"year":4,"serie":"LAV0048-00-2016","ha":47},{"year":5,"serie":"LAV0048-00-2016","ha":28},{"year":6,"serie":"LAV0048-00-2016","ha":50},{"year":7,"serie":"LAV0048-00-2016","ha":339},{"year":8,"serie":"LAV0048-00-2016","ha":19},{"year":9,"serie":"LAV0048-00-2016","ha":122},{"year":10,"serie":"LAV0048-00-2016","ha":19},{"year":11,"serie":"LAV0048-00-2016","ha":10},{"year":12,"serie":"LAV0048-00-2016","ha":20},{"year":13,"serie":"LAV0048-00-2016","ha":17},{"year":14,"serie":"LAV0048-00-2016","ha":17},{"year":15,"serie":"LAV0048-00-2016","ha":12},{"year":16,"serie":"LAV0048-00-2016","ha":62},{"year":17,"serie":"LAV0048-00-2016","ha":100},{"year":18,"serie":"LAV0048-00-2016","ha":135},{"year":19,"serie":"LAV0048-00-2016","ha":72},{"year":20,"serie":"LAV0048-00-2016","ha":92},{"year":21,"serie":"LAV0048-00-2016","ha":50},
{"year":1,"serie":"LAM3915","ha":467},{"year":2,"serie":"LAM3915","ha":66},{"year":3,"serie":"LAM3915","ha":683},{"year":4,"serie":"LAM3915","ha":47},{"year":5,"serie":"LAM3915","ha":28},{"year":6,"serie":"LAM3915","ha":50},{"year":7,"serie":"LAM3915","ha":339},{"year":8,"serie":"LAM3915","ha":19},{"year":9,"serie":"LAM3915","ha":122},{"year":10,"serie":"LAM3915","ha":19},{"year":11,"serie":"LAM3915","ha":10},{"year":12,"serie":"LAM3915","ha":20},{"year":13,"serie":"LAM3915","ha":17},{"year":14,"serie":"LAM3915","ha":17},{"year":15,"serie":"LAM3915","ha":12},{"year":16,"serie":"LAM3915","ha":62},{"year":17,"serie":"LAM3915","ha":100},{"year":18,"serie":"LAM3915","ha":135},{"year":19,"serie":"LAM3915","ha":72},{"year":20,"serie":"LAM3915","ha":92},{"year":21,"serie":"LAM3915","ha":50},
{"year":1,"serie":"LAM5630","ha":15},{"year":2,"serie":"LAM5630","ha":10},{"year":3,"serie":"LAM5630","ha":20},{"year":4,"serie":"LAM5630","ha":15},{"year":5,"serie":"LAM5630","ha":10},{"year":6,"serie":"LAM5630","ha":10},{"year":7,"serie":"LAM5630","ha":25},{"year":8,"serie":"LAM5630","ha":30},{"year":9,"serie":"LAM5630","ha":20},{"year":10,"serie":"LAM5630","ha":15},{"year":11,"serie":"LAM5630","ha":25},{"year":12,"serie":"LAM5630","ha":35},{"year":13,"serie":"LAM5630","ha":20},{"year":14,"serie":"LAM5630","ha":45},{"year":15,"serie":"LAM5630","ha":35},{"year":16,"serie":"LAM5630","ha":30},{"year":17,"serie":"LAM5630","ha":40},{"year":18,"serie":"LAM5630","ha":35},{"year":19,"serie":"LAM5630","ha":25},{"year":20,"serie":"LAM5630","ha":30},{"year":21,"serie":"LAM5630","ha":40},
{"year":1,"serie":"LAM0399","ha":5},{"year":2,"serie":"LAM0399","ha":5},{"year":3,"serie":"LAM0399","ha":10},{"year":4,"serie":"LAM0399","ha":5},{"year":5,"serie":"LAM0399","ha":5},{"year":6,"serie":"LAM0399","ha":5},{"year":7,"serie":"LAM0399","ha":5},{"year":8,"serie":"LAM0399","ha":8},{"year":9,"serie":"LAM0399","ha":5},{"year":10,"serie":"LAM0399","ha":10},{"year":11,"serie":"LAM0399","ha":15},{"year":12,"serie":"LAM0399","ha":15},{"year":13,"serie":"LAM0399","ha":8},{"year":14,"serie":"LAM0399","ha":8},{"year":15,"serie":"LAM0399","ha":5},{"year":16,"serie":"LAM0399","ha":5},{"year":17,"serie":"LAM0399","ha":5},{"year":18,"serie":"LAM0399","ha":5},{"year":19,"serie":"LAM0399","ha":5},{"year":20,"serie":"LAM0399","ha":5},{"year":21,"serie":"LAM0399","ha":5},
{"year":1,"serie":"LAM6114","ha":3},{"year":2,"serie":"LAM6114","ha":3},{"year":3,"serie":"LAM6114","ha":3},{"year":4,"serie":"LAM6114","ha":3},{"year":5,"serie":"LAM6114","ha":3},{"year":6,"serie":"LAM6114","ha":3},{"year":7,"serie":"LAM6114","ha":3},{"year":8,"serie":"LAM6114","ha":3},{"year":9,"serie":"LAM6114","ha":3},{"year":10,"serie":"LAM6114","ha":3},{"year":11,"serie":"LAM6114","ha":3},{"year":12,"serie":"LAM6114","ha":3},{"year":13,"serie":"LAM6114","ha":3},{"year":14,"serie":"LAM6114","ha":3},{"year":15,"serie":"LAM6114","ha":3},{"year":16,"serie":"LAM6114","ha":3},{"year":17,"serie":"LAM6114","ha":3},{"year":18,"serie":"LAM6114","ha":3},{"year":19,"serie":"LAM6114","ha":3},{"year":20,"serie":"LAM6114","ha":3},{"year":21,"serie":"LAM6114","ha":3},
{"year":1,"serie":"LAM2135","ha":4},{"year":2,"serie":"LAM2135","ha":4},{"year":3,"serie":"LAM2135","ha":4},{"year":4,"serie":"LAM2135","ha":4},{"year":5,"serie":"LAM2135","ha":4},{"year":6,"serie":"LAM2135","ha":4},{"year":7,"serie":"LAM2135","ha":4},{"year":8,"serie":"LAM2135","ha":4},{"year":9,"serie":"LAM2135","ha":4},{"year":10,"serie":"LAM2135","ha":4},{"year":11,"serie":"LAM2135","ha":4},{"year":12,"serie":"LAM2135","ha":4},{"year":13,"serie":"LAM2135","ha":4},{"year":14,"serie":"LAM2135","ha":4},{"year":15,"serie":"LAM2135","ha":4},{"year":16,"serie":"LAM2135","ha":4},{"year":17,"serie":"LAM2135","ha":4},{"year":18,"serie":"LAM2135","ha":4},{"year":19,"serie":"LAM2135","ha":4},{"year":20,"serie":"LAM2135","ha":4},{"year":21,"serie":"LAM2135","ha":4}
]},
"layer":[
{"data":{"name":"totals"},
 "mark":{"type":"bar","color":"#7f7f7f","stroke":"#c8c8c8","strokeWidth":1,"width":{"band":0.41}},
 "encoding":{
  "x":{"field":"year","type":"ordinal","scale":{"paddingInner":0,"paddingOuter":0},"axis":{"title":"Año","labelAngle":0,"labelPadding":12,"titlePadding":9,"titleColor":"#595959"}},
  "y":{"field":"total","type":"quantitative","scale":{"domain":[0,18000],"nice":false},"axis":{"orient":"right","title":"Pérdida Total (ha)","values":[0,2000,4000,6000,8000,10000,12000,14000,16000,18000],"format":"d","labelPadding":16,"titleAngle":270,"titlePadding":24}}
 }},
{"data":{"name":"lines"},
 "mark":{"type":"line","strokeWidth":2.75,"strokeCap":"round","strokeJoin":"round"},
 "encoding":{
  "x":{"field":"year","type":"ordinal"},
  "y":{"field":"ha","type":"quantitative","scale":{"domain":[0,1400],"nice":false},"axis":{"orient":"left","title":"Pérdida por polígono (ha)","values":[0,200,400,600,800,1000,1200,1400],"format":"d","labelPadding":14,"titlePadding":6}},
  "color":{"field":"serie","type":"nominal",
   "scale":{"domain":["Total","LAM4913","LAM3523","LAV0013-00-2022","LAM6280","LAV0077-00-2022","LAM2976","LAM7403-00","LAM0115","LAM4276","LAV0051-00-2021","LAM0150","LAM4842","LAM6832-00","LAM6831-00","LAM0734","LAV0013-14","LAV0009-00-2018","LAM5743","LAV0060-00-2022","LAV0021-00-2018","LAV0028-00-2015","LAM7774-00","LAM0528","LAM6084","LAV0088-00-2015","LAM7377-00","LAM4269","LAV0065-00-2021","LAV0003-00-2024","LAM4145","LAV0004-00-2019","LAV0023-00-2022","LAM4392","LAV0056-13","LAM4812","LAM4539","LAV0048-00-2016","LAM3915","LAM5630","LAM0399","LAM6114","LAM2135"],
    "range":["#7f7f7f","#5b9bd5","#9dc3e6","#264478","#9e480e","#636363","#997300","#255e91","#43682b","#698ed0","#f1975a","#b7b7b7","#ffcd33","#7cafdd","#8cc168","#00b050","#d26012","#8c8c8c","#cc9a06","#4472c4","#2e75b6","#548235","#8faadc","#f4b183","#d0d0d0","#ffd966","#a9cbec","#a02b93","#4cd958","#843c0c","#505050","#ed7d31","#7f6000","#9dc3e6","#375623","#7f9fdf","#f4b183","#bfbfbf","#000000","#9dc3e6","#a9d18e","#2f5597","#c55a11"]},
   "legend":{"title":null,"orient":"none","legendX":-35.5,"legendY":301,"columns":7,"direction":"horizontal","gridAlign":"all","columnPadding":21.5,"rowPadding":3,"clipHeight":12,"symbolLimit":60,"symbolType":"stroke","symbolSize":1296,"symbolStrokeWidth":2.75,"labelFont":"Lato","labelFontSize":12,"labelColor":"#404040","labelOffset":1,"labelLimit":200,
    "encode":{"symbols":{"update":{"strokeWidth":{"signal":"(datum.value === 'Total' ? 7 : 2.75)"},"strokeCap":{"signal":"(datum.value === 'Total' ? 'butt' : 'round')"}}}}}},
  "strokeDash":{"field":"serie","type":"nominal",
   "scale":{"domain":["Total","LAM4913","LAM3523","LAV0013-00-2022","LAM6280","LAV0077-00-2022","LAM2976","LAM7403-00","LAM0115","LAM4276","LAV0051-00-2021","LAM0150","LAM4842","LAM6832-00","LAM6831-00","LAM0734","LAV0013-14","LAV0009-00-2018","LAM5743","LAV0060-00-2022","LAV0021-00-2018","LAV0028-00-2015","LAM7774-00","LAM0528","LAM6084","LAV0088-00-2015","LAM7377-00","LAM4269","LAV0065-00-2021","LAV0003-00-2024","LAM4145","LAV0004-00-2019","LAV0023-00-2022","LAM4392","LAV0056-13","LAM4812","LAM4539","LAV0048-00-2016","LAM3915","LAM5630","LAM0399","LAM6114","LAM2135"],
    "range":[[1,0],[1,0],[7,6],[1,0],[1,0],[1,0],[1,0],[0.1,5.5],[1,0],[1,0],[1,0],[1,0],[1,0],[1,0],[1,0],[7,6],[1,0],[1,0],[1,0],[1,0],[1,0],[1,0],[1,0],[1,0],[1,0],[1,0],[1,0],[0.1,5.5],[12,6,0.1,6],[1,0],[1,0],[1,0],[1,0],[7,6],[0.1,5.5],[1,0],[1,0],[1,0],[0.1,5.5],[1,0],[1,0],[1,0],[1,0]]},
   "legend":{"title":null,"orient":"none","legendX":-35.5,"legendY":301,"columns":7,"direction":"horizontal","gridAlign":"all","columnPadding":21.5,"rowPadding":3,"clipHeight":12,"symbolLimit":60,"symbolType":"stroke","symbolSize":1296,"symbolStrokeWidth":2.75,"labelFont":"Lato","labelFontSize":12,"labelColor":"#404040","labelOffset":1,"labelLimit":200,
    "encode":{"symbols":{"update":{"strokeWidth":{"signal":"(datum.value === 'Total' ? 7 : 2.75)"},"strokeCap":{"signal":"(datum.value === 'Total' ? 'butt' : 'round')"}}}}}}
 }}
],
"resolve":{"scale":{"y":"independent"}}
}
